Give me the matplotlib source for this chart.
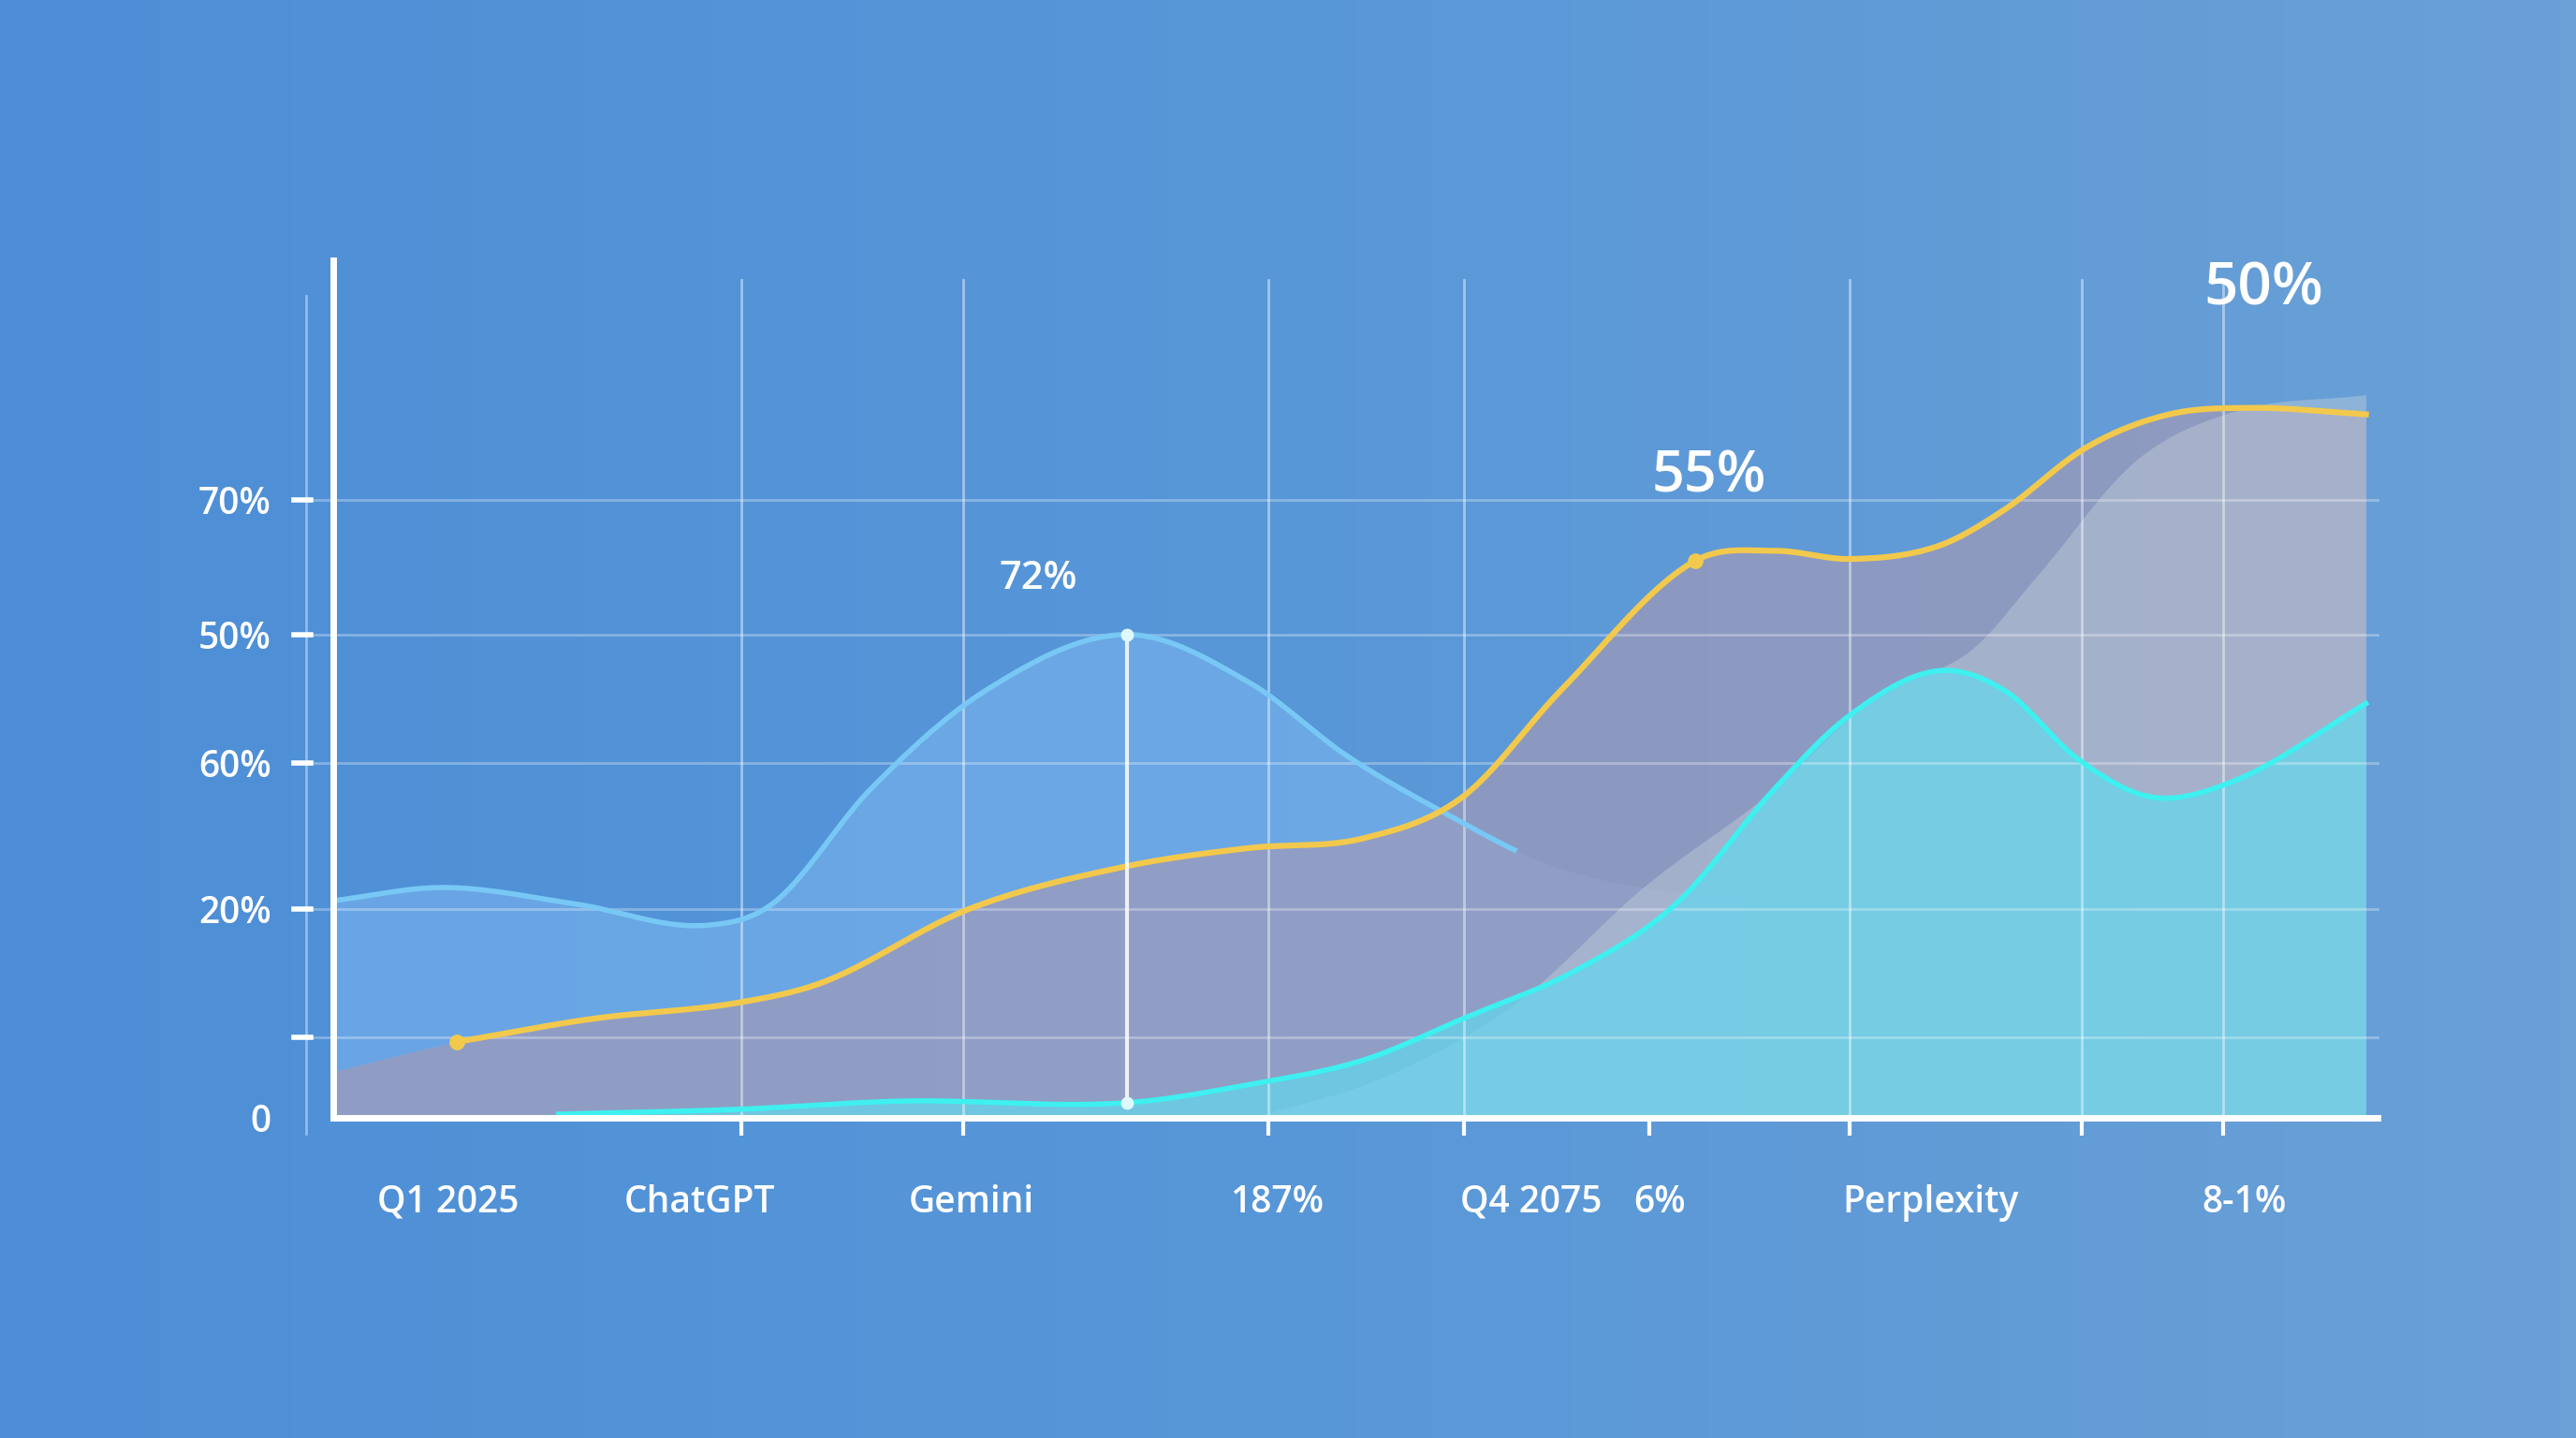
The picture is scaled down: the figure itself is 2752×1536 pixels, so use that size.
import numpy as np
import matplotlib.pyplot as plt
from matplotlib.colors import LinearSegmentedColormap

plt.rcParams['font.family'] = ['Open Sans', 'DejaVu Sans']

# x positions are along the time axis (0..1244), y values on a 0..520 scale
ytick_pos = [376, 294, 216, 127, 49, 0]
ytick_labels = ["70%", "50%", "60%", "20%", "", "0"]
grid_x = [248, 383, 569, 688, 923, 1064, 1150]
xtick_marks = [248, 383, 569, 688, 801, 923, 1064, 1150]
xlabel_pos = [70, 223, 388, 574, 729, 807, 972, 1163]
xlabels = ["Q1 2025", "ChatGPT", "Gemini", "187%", "Q4 2075", "6%", "Perplexity", "8-1%"]

blue_x = [0, 67, 147, 227, 267, 327, 397, 483, 557, 617, 677, 737, 797, 860]
blue_y = [132, 140, 130, 117, 130, 200, 260, 294, 265, 220, 185, 155, 140, 135]

gold_x = [75, 157, 247, 297, 387, 483, 557, 627, 687, 747, 829, 877, 923, 977, 1017, 1067, 1117, 1167, 1237]
gold_y = [46, 60, 70, 82, 127, 153, 164, 170, 195, 260, 339, 345, 340, 348, 370, 408, 428, 432, 428]

cyan_x = [137, 247, 347, 483, 557, 627, 687, 757, 817, 877, 923, 977, 1017, 1062, 1107, 1157, 1237]
cyan_y = [2, 5, 10, 9, 20, 35, 60, 90, 130, 200, 245, 272, 260, 218, 195, 205, 252]

pale_x = [560, 640, 720, 797, 877, 937, 997, 1037, 1097, 1157, 1237]
pale_y = [0, 25, 70, 140, 200, 255, 285, 330, 400, 430, 440]

labels = [(429, 328, "72%", 30), (837, 390, "55%", 44), (1175, 504, "50%", 46)]


def smooth(x, y, n=500):
    x = np.asarray(x, float); y = np.asarray(y, float)
    xs = np.linspace(x[0], x[-1], n)
    d = np.diff(y) / np.diff(x)
    m = np.concatenate([[d[0]], (d[:-1] + d[1:]) / 2, [d[-1]]])
    out = []
    for xv in xs:
        i = min(np.searchsorted(x, xv, side="right") - 1, len(x) - 2)
        h = x[i + 1] - x[i]
        t = (xv - x[i]) / h
        out.append((2*t**3 - 3*t**2 + 1) * y[i] + (t**3 - 2*t**2 + t) * h * m[i]
                   + (-2*t**3 + 3*t**2) * y[i + 1] + (t**3 - t**2) * h * m[i + 1])
    return xs, np.array(out)


fig = plt.figure(figsize=(27.52, 15.36), dpi=100)
bg = fig.add_axes([0, 0, 1, 1])
grad = np.outer(np.ones(10), np.linspace(0, 1, 300))
cmap = LinearSegmentedColormap.from_list("bg", ["#4d8ed6", "#5897d8", "#6aa0d6"])
bg.imshow(grad, aspect="auto", cmap=cmap, extent=[0, 1, 0, 1])
bg.axis("off")

ax = fig.add_axes([0.1295, 0.2229, 0.7934, 0.594])
ax.set_xlim(0, 1244)
ax.set_ylim(0, 520)
ax.patch.set_alpha(0)
for s in ["top", "right"]:
    ax.spines[s].set_visible(False)
for s in ["left", "bottom"]:
    ax.spines[s].set_color("white")
    ax.spines[s].set_linewidth(5)
ax.spines["left"].set_bounds(0, 522)

for yv in ytick_pos[:-1]:
    ax.plot([-17, 1244], [yv, yv], color="white", alpha=0.3, lw=2, clip_on=False)
for xv in grid_x:
    ax.axvline(xv, ymax=0.98, color="white", alpha=0.45, lw=2)
ax.plot([-17, -17], [-10, 500], color="white", alpha=0.4, lw=2, clip_on=False)

ax.set_yticks(ytick_pos)
ax.set_yticklabels(ytick_labels, fontweight="semibold")
ax.tick_params(axis="y", colors="white", labelsize=28, length=0, pad=48)
for yv in ytick_pos[:-1]:
    ax.plot([-24, -14], [yv, yv], color="white", lw=4, clip_on=False)
ax.set_xticks(xtick_marks)
ax.set_xticklabels([])
ax.tick_params(axis="x", colors="white", length=14, width=3, direction="out")
for xp, t in zip(xlabel_pos, xlabels):
    ax.text(xp, -52, t, color="white", fontsize=28, fontweight="semibold",
            ha="center", va="center", clip_on=False)

bxs, bys = smooth(blue_x, blue_y)
ax.fill_between(bxs, 0, bys, color="#7ab4ee", alpha=0.6, lw=0)
gxs, gys = smooth([0] + gold_x, [28] + gold_y)
ax.fill_between(gxs, 0, gys, color="#a09ab8", alpha=0.7, lw=0)
pxs, pys = smooth(pale_x, pale_y)
ax.fill_between(pxs, 0, pys, color="#c8d4dc", alpha=0.4, lw=0)
ax.plot(bxs[bxs < 720], bys[bxs < 720], color="#78c8f5", lw=4)
cxs, cys = smooth(cyan_x, cyan_y)
ax.fill_between(cxs, 0, cys, color="#62d8ee", alpha=0.7, lw=0)
ax.plot(cxs, cys, color="#3ef0f0", lw=4)
gxs2, gys2 = smooth(gold_x, gold_y)
ax.plot(gxs2, gys2, color="#f2c94c", lw=4.5)

ax.plot([483, 483], [9, 294], color="white", lw=3, alpha=0.85)
ax.plot([483, 483], [9, 294], "o", color="#dff8ff", ms=9)
ax.plot([75, 829], [46, 339], "o", color="#f2c94c", ms=11, ls="none")

for xv, yv, t, fs in labels:
    ax.text(xv, yv, t, color="white", fontsize=fs, fontweight="semibold", ha="center", va="center")

fig.savefig("out.png", dpi=100)
